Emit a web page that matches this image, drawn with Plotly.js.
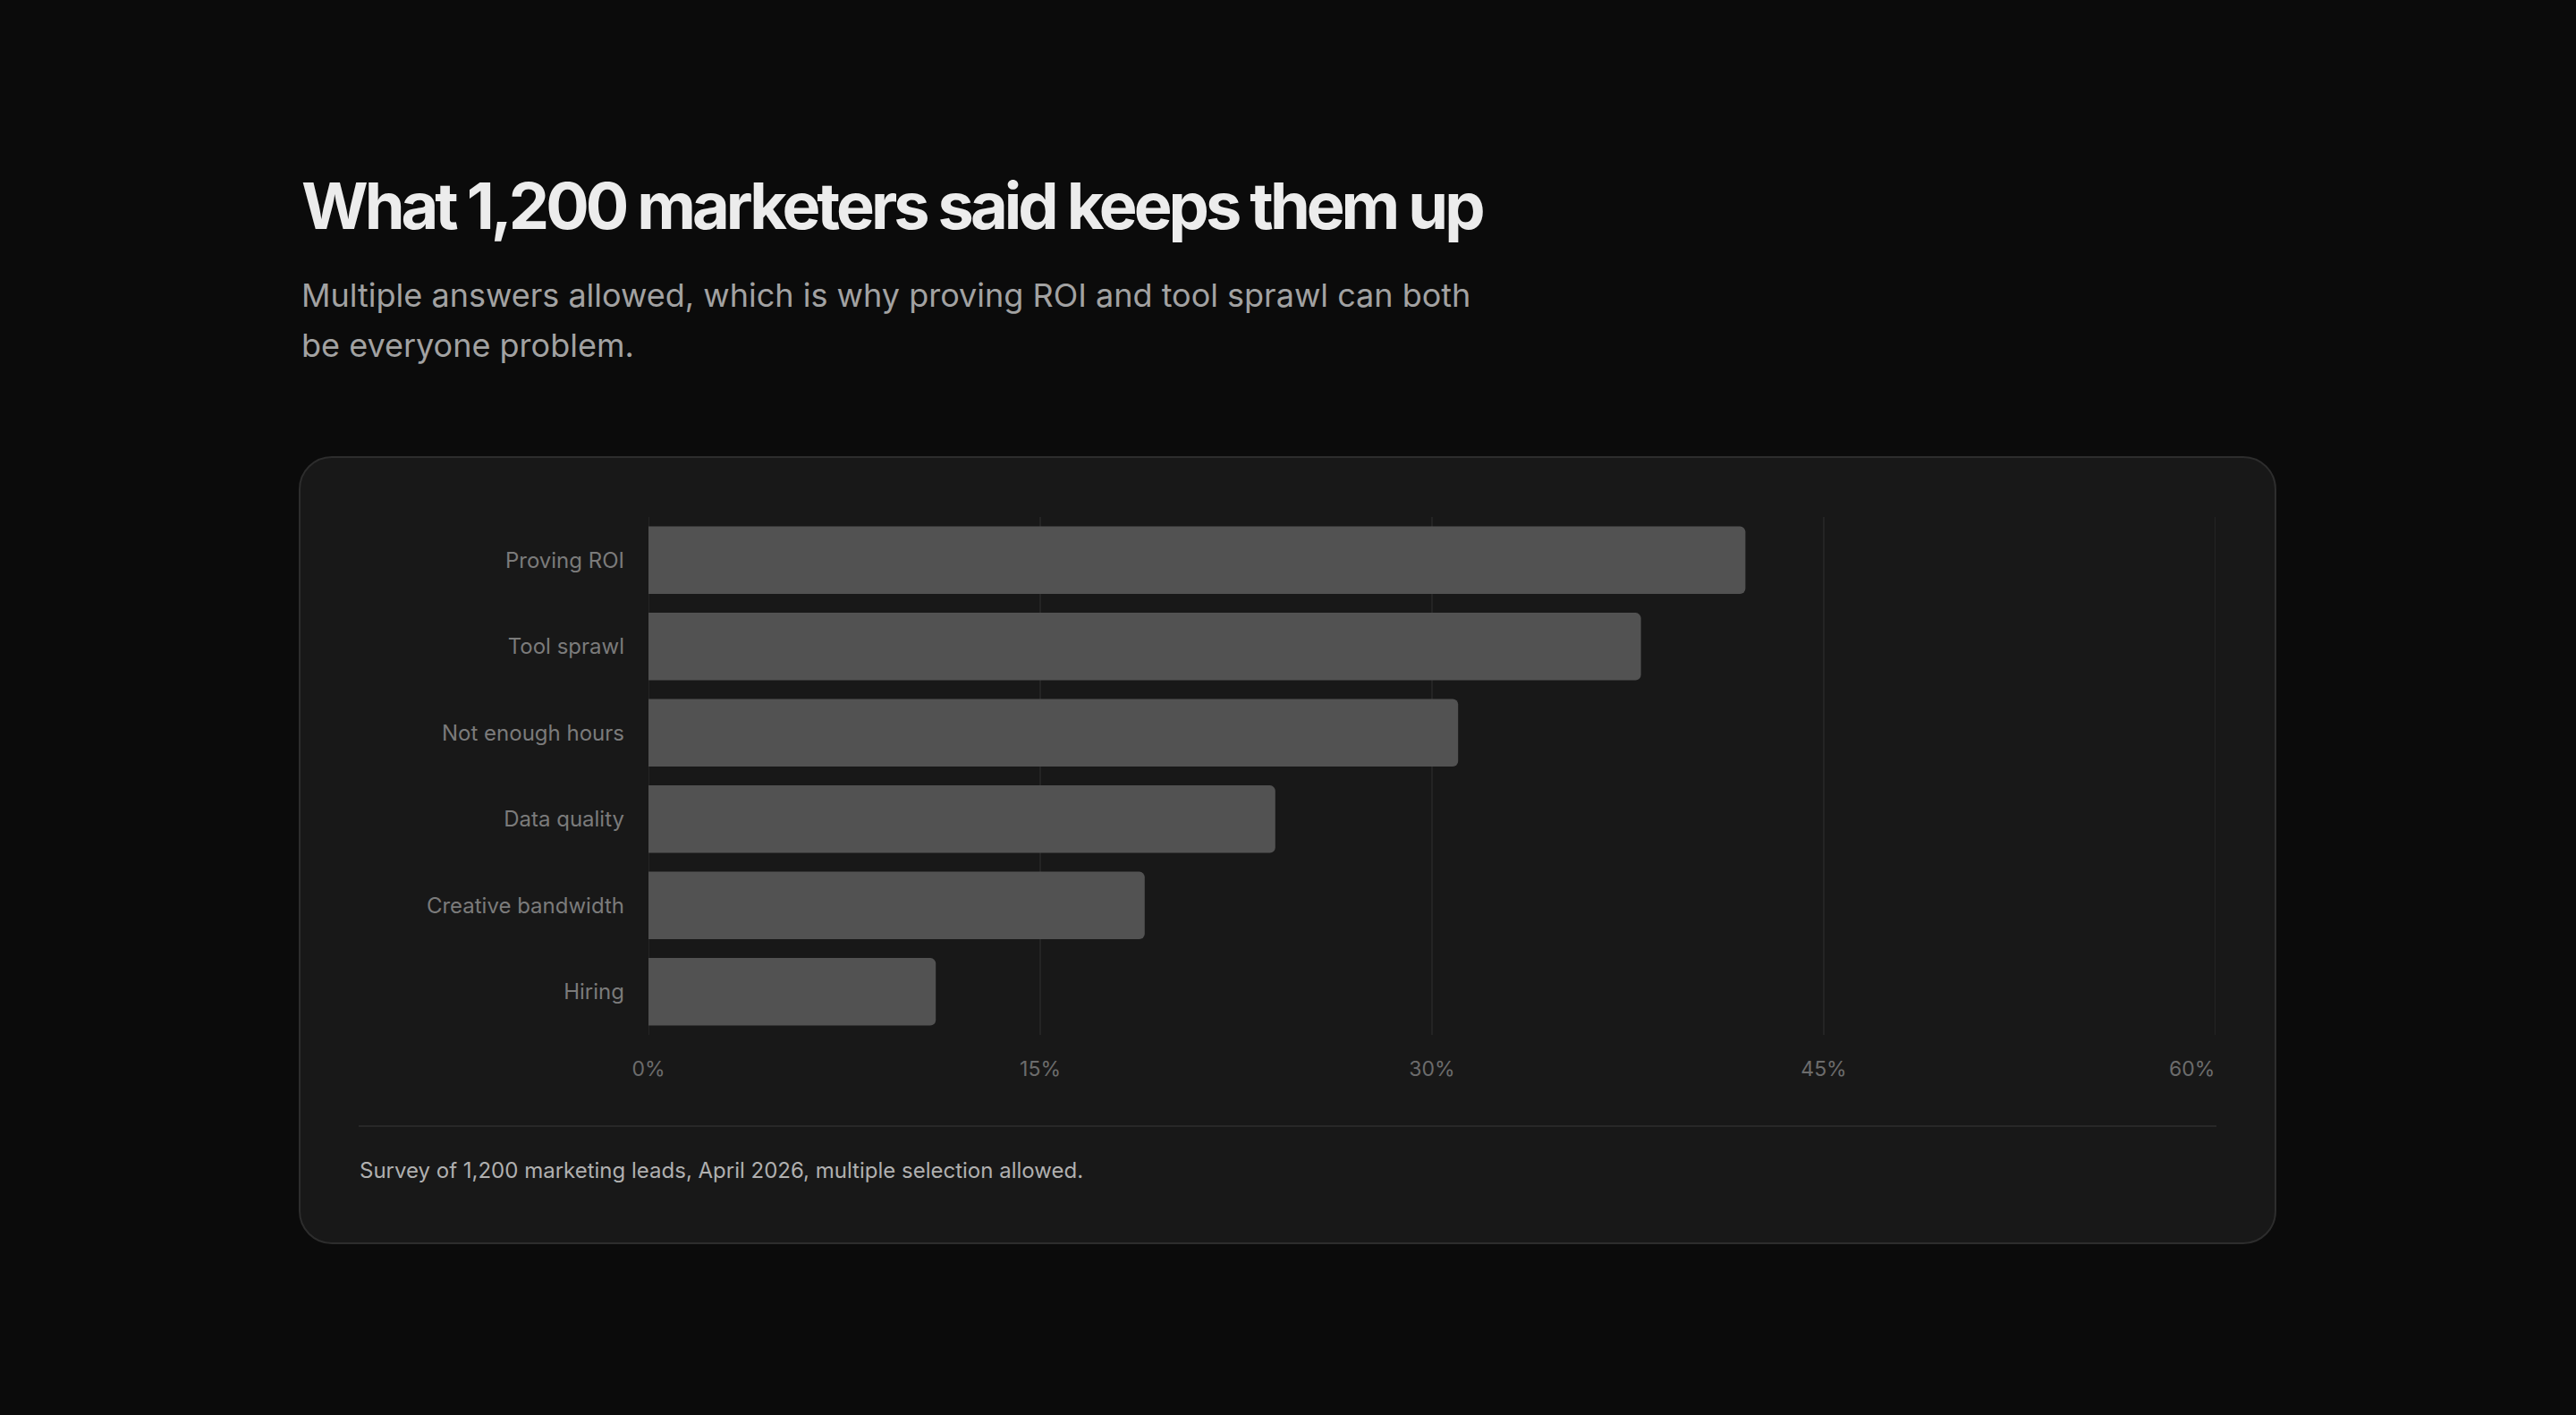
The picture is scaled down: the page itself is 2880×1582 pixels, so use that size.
<!DOCTYPE html>
<html>
<head>
<meta charset="utf-8">
<script src="https://cdn.plot.ly/plotly-3.0.1.min.js"></script>
<style>
  html, body { margin: 0; padding: 0; background: #0b0b0b; }
  #chart { width: 2880px; height: 1582px; }
</style>
</head>
<body>
<div id="chart"></div>
<script>
const categories = ["Proving ROI", "Tool sprawl", "Not enough hours", "Data quality", "Creative bandwidth", "Hiring"];
const shares = [42, 38, 31, 24, 19, 11];
const tickValues = [0, 15, 30, 45, 60];
const tickLabels = ["0%", "15%", "30%", "45%", "60%"];

const titleText = "What 1,200 marketers said keeps them up";
const subtitleLines = ["Multiple answers allowed, which is why proving ROI and tool sprawl can both", "be everyone problem."];
const footnoteText = "Survey of 1,200 marketing leads, April 2026, multiple selection allowed.";

const W = 2880, H = 1582;
const M = { l: 725, r: 403, t: 578, b: 425 };
const PW = W - M.l - M.r, PH = H - M.t - M.b;
const px = x => (x - M.l) / PW;
const py = y => (H - M.b - y) / PH;

function roundedRect(w, h, r) {
  const a = w / 2, b = h / 2, k = r * 0.4477;
  return `M ${-a + r},${-b} L ${a - r},${-b} C ${a - k},${-b} ${a},${-b + k} ${a},${-b + r} ` +
         `L ${a},${b - r} C ${a},${b - k} ${a - k},${b} ${a - r},${b} ` +
         `L ${-a + r},${b} C ${-a + k},${b} ${-a},${b - k} ${-a},${b - r} ` +
         `L ${-a},${-b + r} C ${-a},${-b + k} ${-a + k},${-b} ${-a + r},${-b} Z`;
}

const card = { x0: 335, x1: 2544, y0: 511, y1: 1390, r: 36 };
const FONT = "Inter, 'Noto Sans', sans-serif";

const trace = {
  type: "bar",
  orientation: "h",
  y: categories,
  x: shares,
  marker: { color: "#525252", cornerradius: 6, line: { width: 0 } },
  hoverinfo: "skip"
};

const gridShapes = tickValues.map(v => ({
  type: "line", layer: "below",
  xref: "x", yref: "paper",
  x0: v, x1: v, y0: 0, y1: 1,
  line: { color: "#282828", width: 1.5 }
}));

const layout = {
  width: W, height: H,
  margin: M,
  paper_bgcolor: "#0b0b0b",
  plot_bgcolor: "rgba(0,0,0,0)",
  bargap: 0.22,
  showlegend: false,
  font: { family: FONT },
  xaxis: {
    range: [0, 60],
    tickmode: "array",
    tickvals: tickValues,
    ticktext: tickLabels.map((t, i) => i === tickLabels.length - 1 ? "" : t),
    showgrid: false,
    zeroline: false, showline: false, ticks: "",
    ticklabelstandoff: 22,
    tickfont: { family: FONT, size: 23, color: "#6c6c6c" },
    fixedrange: true
  },
  yaxis: {
    type: "category",
    autorange: "reversed",
    showgrid: false, zeroline: false, showline: false, ticks: "",
    ticklabelstandoff: 26,
    tickfont: { family: FONT, size: 24, color: "#7b7b7b" },
    fixedrange: true
  },
  shapes: [
    {
      type: "path", layer: "below",
      xref: "paper", yref: "paper",
      xsizemode: "pixel", ysizemode: "pixel",
      xanchor: px((card.x0 + card.x1) / 2), yanchor: py((card.y0 + card.y1) / 2),
      path: roundedRect(card.x1 - card.x0, card.y1 - card.y0, card.r),
      fillcolor: "#181818",
      line: { color: "#2d2d2d", width: 2 }
    },
    {
      type: "line", layer: "below",
      xref: "paper", yref: "paper",
      x0: px(401), x1: px(2478), y0: py(1259), y1: py(1259),
      line: { color: "#282828", width: 2 }
    },
    ...gridShapes
  ],
  annotations: [
    {
      text: titleText, xref: "paper", yref: "paper",
      x: px(996.5), y: py(229.5), xanchor: "center", yanchor: "middle",
      showarrow: false, borderpad: 0,
      font: { family: FONT, size: 72, weight: 700, color: "#ececec" }
    },
    {
      text: subtitleLines[0], xref: "paper", yref: "paper",
      x: px(336), y: py(330), xanchor: "left", yanchor: "middle",
      showarrow: false, borderpad: 0,
      font: { family: FONT, size: 36, color: "#a2a2a2" }
    },
    {
      text: subtitleLines[1], xref: "paper", yref: "paper",
      x: px(336), y: py(386.3), xanchor: "left", yanchor: "middle",
      showarrow: false, borderpad: 0,
      font: { family: FONT, size: 36, color: "#a2a2a2" }
    },
    {
      text: footnoteText, xref: "paper", yref: "paper",
      x: px(401), y: py(1308), xanchor: "left", yanchor: "middle",
      showarrow: false, borderpad: 0,
      font: { family: FONT, size: 24, color: "#b0b0b0" }
    },
    {
      text: tickLabels[tickLabels.length - 1], xref: "x", yref: "paper",
      x: tickValues[tickValues.length - 1], y: py(1195), xanchor: "right", yanchor: "middle",
      showarrow: false, borderpad: 0,
      font: { family: FONT, size: 23, color: "#6c6c6c" }
    }
  ]
};

Plotly.newPlot("chart", [trace], layout, { staticPlot: true, displayModeBar: false }).then(() => {
  const texts = document.querySelectorAll(".annotation-text");
  if (texts[0]) texts[0].style.letterSpacing = "-4px";
});
</script>
</body>
</html>
